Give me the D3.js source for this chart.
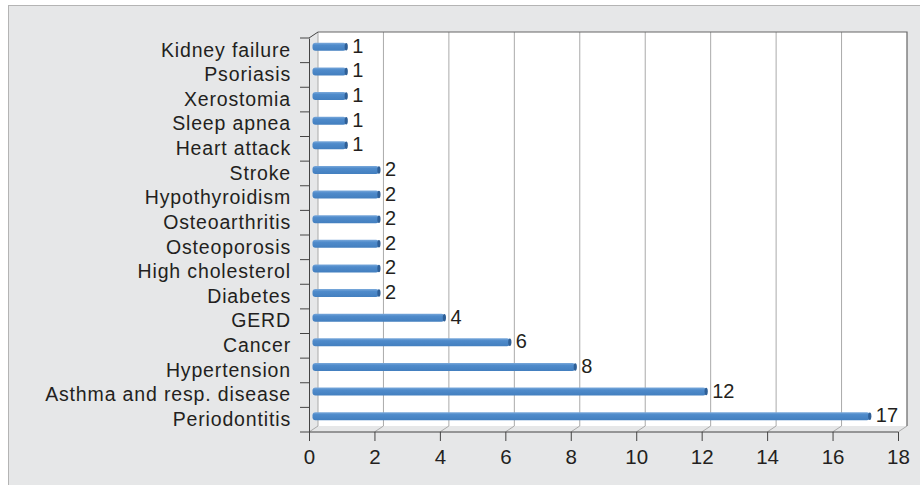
<!DOCTYPE html>
<html>
<head>
<meta charset="utf-8">
<script src="https://cdn.jsdelivr.net/npm/d3@7"></script>
<style>
  body { margin: 0; background: #fff; }
  svg { display: block; font-family: "Liberation Sans", Arial, sans-serif; }
</style>
</head>
<body>
<svg id="chart"></svg>
<script>
// categories top to bottom
const categories = [
  "Kidney failure", "Psoriasis", "Xerostomia", "Sleep apnea", "Heart attack",
  "Stroke", "Hypothyroidism", "Osteoarthritis", "Osteoporosis", "High cholesterol",
  "Diabetes", "GERD", "Cancer", "Hypertension", "Asthma and resp. disease", "Periodontitis"
];
const counts = [1, 1, 1, 1, 1, 2, 2, 2, 2, 2, 2, 4, 6, 8, 12, 17];
const xTicks = [0, 2, 4, 6, 8, 10, 12, 14, 16, 18];

const width = 920;
const height = 485;

const svg = d3.select("#chart").attr("width", width).attr("height", height);

// grey panel
svg.append("rect")
  .attr("x", 8.5).attr("y", 5.5)
  .attr("width", width).attr("height", height)
  .attr("fill", "#e6e7e8")
  .attr("stroke", "#b4b4b4");

const plotLeft = 309, plotRight = 898, plotTop = 38, plotBottom = 432;
const depth = [9, -6]; // pseudo 3d offset

const x = d3.scaleLinear().domain([0, 18]).range([plotLeft, plotRight]);
const y = d3.scaleBand().domain(categories).range([plotTop, plotBottom]);

// back wall
svg.append("rect")
  .attr("x", plotLeft + depth[0]).attr("y", plotTop + depth[1])
  .attr("width", plotRight - plotLeft).attr("height", plotBottom - plotTop)
  .attr("fill", "#fff");

// grid lines on the back wall + floor diagonals
const grid = svg.append("g").attr("stroke", "#aaa").attr("fill", "none");
grid.selectAll("line.v")
  .data(xTicks.slice(1, -1))
  .join("line")
  .attr("class", "v")
  .attr("x1", (d) => x(d) + depth[0]).attr("x2", (d) => x(d) + depth[0])
  .attr("y1", plotTop + depth[1]).attr("y2", plotBottom + depth[1]);
grid.selectAll("line.d")
  .data(xTicks)
  .join("line")
  .attr("class", "d")
  .attr("x1", (d) => x(d)).attr("y1", plotBottom)
  .attr("x2", (d) => x(d) + depth[0]).attr("y2", plotBottom + depth[1]);
// back wall left edge
grid.append("line")
  .attr("x1", plotLeft + depth[0]).attr("x2", plotLeft + depth[0])
  .attr("y1", plotTop + depth[1]).attr("y2", plotBottom + depth[1]);

// back wall top/right darker edge
svg.append("path")
  .attr("d", `M${plotLeft + depth[0]},${plotTop + depth[1]}H${plotRight + depth[0]}V${plotBottom + depth[1]}`)
  .attr("fill", "none").attr("stroke", "#666").attr("stroke-width", 1.2);

// left wall top diagonal
svg.append("line")
  .attr("x1", plotLeft).attr("y1", plotTop)
  .attr("x2", plotLeft + depth[0]).attr("y2", plotTop + depth[1])
  .attr("stroke", "#444");

// gradient for bars
const defs = svg.append("defs");
const grad = defs.append("linearGradient").attr("id", "barGrad")
  .attr("x1", 0).attr("y1", 0).attr("x2", 0).attr("y2", 1);
grad.append("stop").attr("offset", "0%").attr("stop-color", "#7aa9db");
grad.append("stop").attr("offset", "30%").attr("stop-color", "#4f8bcb");
grad.append("stop").attr("offset", "100%").attr("stop-color", "#437fbf");

const barH = 8;
const hx = depth[0] / 2, hy = depth[1] / 2;
const cy = (d) => y(d) + y.bandwidth() / 2 + hy - 0.5;

const bars = svg.append("g");
bars.selectAll("rect")
  .data(categories)
  .join("rect")
  .attr("x", x(0) + hx - 1)
  .attr("y", (d) => cy(d) - barH / 2)
  .attr("width", (d, i) => x(counts[i]) - x(0) + 1)
  .attr("height", barH)
  .attr("rx", 3)
  .attr("fill", "url(#barGrad)");
bars.selectAll("ellipse")
  .data(categories)
  .join("ellipse")
  .attr("cx", (d, i) => x(counts[i]) + hx)
  .attr("cy", cy)
  .attr("rx", 1.6)
  .attr("ry", barH / 2 - 0.3)
  .attr("fill", "#2f5f96");

// value labels
svg.append("g")
  .selectAll("text")
  .data(categories)
  .join("text")
  .attr("x", (d, i) => x(counts[i]) + hx + 6)
  .attr("y", (d) => cy(d) - 1)
  .attr("dy", "0.35em")
  .attr("font-size", 20)
  .attr("fill", "#231f20")
  .text((d, i) => counts[i]);

// y axis (front)
const yAxis = svg.append("g")
  .attr("transform", `translate(${plotLeft},0)`)
  .call(d3.axisLeft(y).tickSize(0).tickPadding(18));
yAxis.select(".domain").attr("stroke", "#444");
yAxis.selectAll("text").attr("font-size", 19.5).attr("letter-spacing", 0.85)
  .attr("fill", "#231f20")
  .attr("font-family", "Liberation Sans, Arial, sans-serif");
// category boundary ticks
svg.append("g").attr("stroke", "#444")
  .selectAll("line")
  .data(categories.map((d) => y(d)).concat([plotBottom]))
  .join("line")
  .attr("x1", plotLeft - 9).attr("x2", plotLeft)
  .attr("y1", (d) => d).attr("y2", (d) => d);

// x axis (front)
const xAxis = svg.append("g")
  .attr("transform", `translate(0,${plotBottom})`)
  .call(d3.axisBottom(x).tickValues(xTicks).tickSize(9).tickPadding(8));
xAxis.select(".domain").attr("stroke", "#444").attr("d", `M${plotLeft},0H${plotRight}`);
xAxis.selectAll(".tick line").attr("stroke", "#444");
xAxis.selectAll("text").attr("font-size", 20.5).attr("fill", "#231f20")
  .attr("font-family", "Liberation Sans, Arial, sans-serif");
</script>
</body>
</html>
